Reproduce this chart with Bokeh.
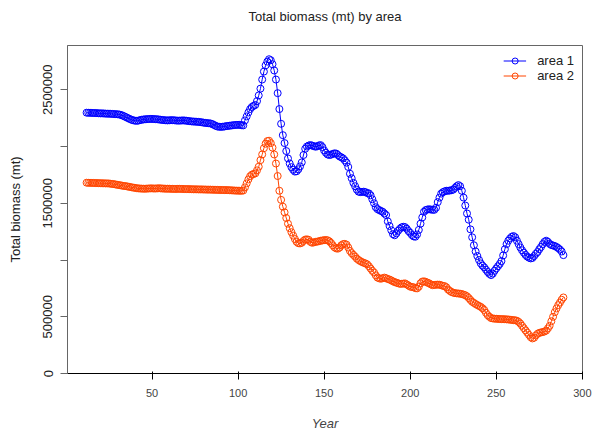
from bokeh.plotting import figure
from bokeh.models import (ColumnDataSource, FixedTicker, Range1d, Legend, LegendItem,
                          LinearAxis)
from bokeh.embed import file_html
from bokeh.resources import INLINE

# ---- data (thousands of mt) ----
years = list(range(12, 290))

area1_kt = [
    2298, 2297, 2297, 2296, 2295, 2295, 2294, 2293,                      # 12-19
    2292, 2292, 2291, 2290, 2289, 2289, 2288, 2287, 2286, 2285,          # 20-29
    2284, 2282, 2278, 2272, 2265, 2258, 2250, 2243, 2236, 2231,          # 30-39
    2228, 2226, 2228, 2232, 2236, 2238, 2240, 2241, 2242, 2243,          # 40-49
    2243, 2242, 2241, 2240, 2238, 2236, 2234, 2232, 2231, 2230,          # 50-59
    2231, 2232, 2232, 2231, 2229, 2228, 2228, 2229, 2230, 2229,          # 60-69
    2227, 2225, 2223, 2221, 2220, 2219, 2218, 2217, 2215, 2213,          # 70-79
    2210, 2208, 2206, 2205, 2203, 2198, 2190, 2182, 2176, 2174,          # 80-89
    2173, 2174, 2176, 2179, 2181, 2183, 2185, 2187, 2189, 2190,          # 90-99
    2191, 2191, 2188, 2186, 2230, 2265, 2300, 2330, 2348, 2358,          # 100-109
    2366, 2400, 2450, 2510, 2590, 2660, 2715, 2748, 2769, 2760,          # 110-119
    2725, 2670, 2590, 2470, 2330, 2200, 2100, 2030, 1960, 1895,          # 120-129
    1850, 1818, 1795, 1779, 1782, 1799, 1825, 1860, 1925, 1980,          # 130-139
    2000, 2008, 2013, 2008, 2003, 1998, 2002, 2010, 2012, 1995,          # 140-149
    1965, 1945, 1930, 1925, 1928, 1935, 1940, 1938, 1925, 1912,          # 150-159
    1905, 1895, 1878, 1858, 1820, 1760, 1720, 1680, 1650, 1620,          # 160-169
    1602, 1598, 1600, 1602, 1598, 1590, 1587, 1570, 1535, 1500,          # 170-179
    1465, 1448, 1440, 1432, 1425, 1410, 1396, 1340, 1300, 1262,          # 180-189
    1228, 1218, 1235, 1258, 1275, 1288, 1293, 1290, 1275, 1255,          # 190-199
    1240, 1220, 1208, 1205, 1225, 1265, 1320, 1375, 1425, 1440,          # 200-209
    1445, 1447, 1445, 1442, 1442, 1460, 1510, 1550, 1585, 1598,          # 210-219
    1605, 1610, 1610, 1612, 1615, 1620, 1635, 1650, 1660, 1650,          # 220-229
    1610, 1550, 1480, 1410, 1355, 1270, 1200, 1130, 1075, 1035,          # 230-239
    1000, 970, 950, 935, 915, 895, 878, 867, 880, 905,                   # 240-249
    926, 945, 965, 990, 1040, 1095, 1140, 1170, 1190, 1205,              # 250-259
    1211, 1200, 1170, 1140, 1110, 1085, 1065, 1045, 1030, 1020,          # 260-269
    1014, 1018, 1035, 1055, 1070, 1095, 1115, 1140, 1160, 1170,          # 270-279
    1160, 1142, 1132, 1128, 1123, 1115, 1105, 1092, 1075, 1043,          # 280-289
]

area2_kt = [
    1681, 1680, 1680, 1679, 1679, 1678, 1678, 1677,                      # 12-19
    1677, 1676, 1676, 1675, 1675, 1674, 1672, 1670, 1668, 1665,          # 20-29
    1662, 1660, 1657, 1654, 1652, 1650, 1647, 1644, 1641, 1638,          # 30-39
    1636, 1633, 1631, 1630, 1629, 1628, 1628, 1629, 1630, 1631,          # 40-49
    1631, 1630, 1630, 1631, 1632, 1631, 1630, 1629, 1628, 1628,          # 50-59
    1628, 1627, 1627, 1626, 1626, 1627, 1627, 1626, 1626, 1625,          # 60-69
    1625, 1625, 1624, 1624, 1623, 1623, 1623, 1622, 1622, 1622,          # 70-79
    1621, 1621, 1620, 1620, 1620, 1619, 1619, 1618, 1618, 1617,          # 80-89
    1617, 1617, 1616, 1616, 1616, 1615, 1614, 1613, 1612, 1611,          # 90-99
    1611, 1610, 1610, 1612, 1640, 1675, 1710, 1738, 1752, 1758,          # 100-109
    1763, 1790, 1822, 1880, 1930, 1985, 2025, 2048, 2051, 2030,          # 110-119
    1990, 1930, 1850, 1740, 1610, 1530, 1470, 1420, 1370, 1320,          # 120-129
    1280, 1245, 1215, 1185, 1160, 1148, 1146, 1152, 1168, 1180,          # 130-139
    1182, 1178, 1160, 1152, 1155, 1160, 1162, 1165, 1170, 1172,          # 140-149
    1175, 1176, 1174, 1165, 1150, 1130, 1112, 1102, 1100, 1110,          # 150-159
    1130, 1140, 1142, 1135, 1110, 1080, 1060, 1045, 1030, 1012,          # 160-169
    1000, 990, 982, 975, 970, 962, 945, 925, 905, 890,                   # 170-179
    865, 845, 838, 835, 840, 845, 840, 832, 828, 820,                    # 180-189
    812, 805, 800, 795, 790, 790, 792, 794, 785, 775,                    # 190-199
    765, 762, 760, 752, 750, 765, 795, 810, 812, 808,                    # 200-209
    800, 795, 785, 778, 780, 782, 783, 782, 778, 772,                    # 210-219
    770, 760, 740, 728, 718, 712, 708, 706, 705, 703,                    # 220-229
    700, 695, 690, 680, 665, 648, 632, 622, 612, 603,                    # 230-239
    595, 587, 575, 560, 535, 514, 500, 488, 485, 483,                    # 240-249
    482, 481, 480, 479, 479, 478, 477, 476, 474, 472,                    # 250-259
    470, 469, 465, 455, 440, 420, 400, 380, 360, 340,                    # 260-269
    320, 309, 315, 335, 350, 358, 362, 365, 370, 378,                    # 270-279
    397, 420, 460, 500, 540, 573, 602, 625, 650, 670,                    # 280-289
]

x_ticks = [50, 100, 150, 200, 250, 300]
y_ticks = [0, 500000, 1000000, 1500000, 2000000, 2500000]
y_tick_labels = ["0", "500000", "", "1500000", "", "2500000"]
series_names = ["area 1", "area 2"]
series_colors = ["#0000FF", "#FF4500"]
title_text = "Total biomass (mt) by area"

area1 = [v * 1000 for v in area1_kt]
area2 = [v * 1000 for v in area2_kt]
assert len(area1) == len(years) and len(area2) == len(years)

FONT = "Liberation Sans"

p = figure(width=595, height=441, output_backend="svg", toolbar_location=None,
           title_location=None,
           x_range=Range1d(0.9, 300.1), y_range=Range1d(0, 2890000),
           min_border_left=67, min_border_right=13, min_border_top=45,
           min_border_bottom=68, background_fill_color="white",
           border_fill_color="white")

# Title drawn as the label of a bare axis above the frame (no ticks, no line)
title_axis = LinearAxis(ticker=FixedTicker(ticks=[]), axis_line_color=None,
                        major_tick_line_color=None, minor_tick_line_color=None,
                        major_tick_out=0, major_tick_in=0,
                        minor_tick_out=0, minor_tick_in=0,
                        axis_label=title_text, axis_label_standoff=22,
                        axis_label_text_font=FONT, axis_label_text_font_size="12px",
                        axis_label_text_font_style="bold",
                        axis_label_text_color="black")
p.add_layout(title_axis, "above")

p.xgrid.visible = False
p.ygrid.visible = False
p.outline_line_color = "#666666"
p.outline_line_width = 1

for ax in (p.xaxis[0], p.yaxis[0]):
    ax.major_tick_out = 7
    ax.major_tick_in = 0
    ax.minor_tick_out = 0
    ax.minor_tick_in = 0
    ax.major_tick_line_color = "#666666"
    ax.major_label_text_font = FONT
    ax.major_label_text_font_size = "13px"
    ax.major_label_text_color = "#222222"
    ax.axis_label_text_font = FONT
    ax.axis_label_text_font_size = "13px"
    ax.axis_label_text_font_style = "normal"
    ax.axis_label_text_color = "#222222"

xax = p.below[0]
xax.ticker = FixedTicker(ticks=x_ticks)
xax.major_label_overrides = {t: str(t) for t in x_ticks}
xax.axis_line_color = "black"
xax.major_label_standoff = 9
xax.axis_label = "Year"
xax.axis_label_standoff = 16

yax = p.yaxis[0]
yax.ticker = FixedTicker(ticks=y_ticks)
yax.major_label_overrides = dict(zip(y_ticks, y_tick_labels))
yax.major_label_orientation = "vertical"
yax.axis_line_color = "#666666"
yax.major_label_standoff = 8
yax.axis_label = "Total biomass (mt)"
yax.axis_label_standoff = 18

items = []
for name, vals, col in zip(series_names, [area1, area2], series_colors):
    src = ColumnDataSource(dict(x=years, y=vals))
    lr = p.line("x", "y", source=src, line_color=col, line_width=1)
    sr = p.scatter("x", "y", source=src, marker="circle", size=7,
                   line_color=col, line_width=1, fill_color=None)
    items.append(LegendItem(label=name, renderers=[lr, sr]))

legend = Legend(items=items, location="top_right",
                background_fill_alpha=0, border_line_alpha=0,
                label_text_font=FONT, label_text_font_size="13px",
                label_text_color="#222222",
                glyph_width=23, glyph_height=15, label_height=15,
                label_standoff=11, spacing=0, padding=6, margin=2)
p.add_layout(legend, "center")

open("out.html", "w").write(file_html(p, INLINE))
